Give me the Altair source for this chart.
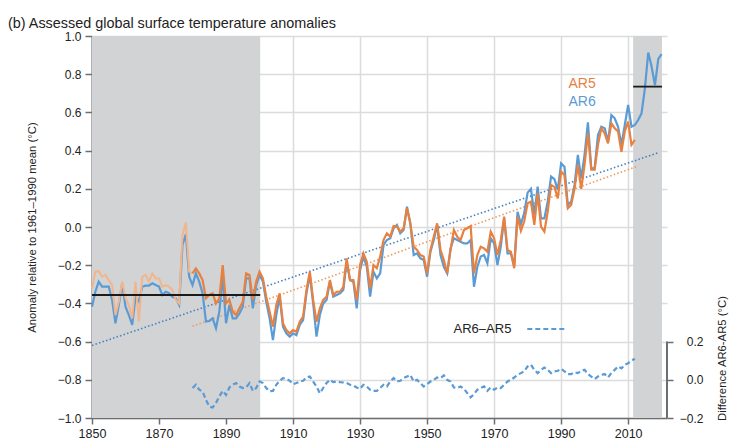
import altair as alt
import pandas as pd

# ---------------- data ----------------
years_ar6 = list(range(1850, 2021))
ar6 = [
    -0.417, -0.339, -0.286, -0.312, -0.312, -0.312, -0.382, -0.504, -0.408, -0.295,
    -0.417, -0.461, -0.513, -0.365, -0.390, -0.312, -0.307, -0.307, -0.295, -0.304,
    -0.312, -0.356, -0.339, -0.347, -0.365, -0.373, -0.408, -0.094, -0.038, -0.260,
    -0.304, -0.243, -0.286, -0.347, -0.495, -0.492, -0.478, -0.530, -0.443, -0.260,
    -0.504, -0.408, -0.478, -0.478, -0.452, -0.417, -0.269, -0.269, -0.426, -0.304,
    -0.251, -0.286, -0.391, -0.478, -0.592, -0.461, -0.365, -0.522, -0.557, -0.574,
    -0.557, -0.566, -0.513, -0.487, -0.347, -0.251, -0.400, -0.574, -0.461, -0.400,
    -0.382, -0.286, -0.365, -0.356, -0.347, -0.330, -0.182, -0.278, -0.286, -0.426,
    -0.225, -0.155, -0.208, -0.365, -0.234, -0.269, -0.243, -0.094, -0.068, -0.059,
    -0.007, 0.011, -0.033, -0.016, 0.106, 0.019, -0.147, -0.138, -0.164, -0.173,
    -0.260, -0.129, -0.068, 0.011, -0.147, -0.208, -0.243, -0.112, -0.059, -0.068,
    -0.077, -0.086, -0.086, -0.068, -0.313, -0.208, -0.155, -0.147, -0.190, -0.059,
    -0.086, -0.199, -0.103, 0.045, -0.138, -0.138, -0.204, 0.080, 0.015, 0.074,
    0.180, 0.200, 0.063, 0.211, 0.045, 0.045, 0.133, 0.264, 0.250, 0.194,
    0.333, 0.316, 0.115, 0.133, 0.220, 0.377, 0.255, 0.377, 0.548, 0.307,
    0.307, 0.482, 0.525, 0.517, 0.447, 0.586, 0.569, 0.525, 0.430, 0.534,
    0.639, 0.525, 0.534, 0.560, 0.595, 0.726, 0.913, 0.840, 0.743, 0.880,
    0.905,
]

years_ar5 = list(range(1850, 2013))
ar5 = [
    -0.321, -0.234, -0.230, -0.260, -0.251, -0.278, -0.304, -0.461, -0.391, -0.286,
    -0.373, -0.408, -0.478, -0.286, -0.495, -0.260, -0.251, -0.286, -0.243, -0.269,
    -0.269, -0.312, -0.304, -0.312, -0.330, -0.382, -0.400, -0.042, 0.024, -0.234,
    -0.243, -0.217, -0.243, -0.278, -0.373, -0.356, -0.347, -0.400, -0.373, -0.199,
    -0.400, -0.382, -0.443, -0.461, -0.426, -0.391, -0.243, -0.251, -0.382, -0.286,
    -0.234, -0.269, -0.365, -0.443, -0.522, -0.408, -0.347, -0.504, -0.540, -0.557,
    -0.540, -0.548, -0.496, -0.469, -0.330, -0.234, -0.382, -0.496, -0.426, -0.382,
    -0.365, -0.278, -0.356, -0.339, -0.339, -0.313, -0.164, -0.278, -0.278, -0.382,
    -0.199, -0.138, -0.182, -0.321, -0.199, -0.216, -0.155, -0.068, -0.033, -0.051,
    0.005, 0.002, -0.024, -0.007, 0.098, 0.019, -0.103, -0.120, -0.147, -0.155,
    -0.243, -0.120, -0.051, 0.019, -0.120, -0.173, -0.243, -0.120, -0.016, -0.051,
    -0.068, -0.016, -0.007, 0.005, -0.243, -0.147, -0.103, -0.112, -0.129, -0.024,
    -0.059, -0.147, -0.068, 0.054, -0.120, -0.129, -0.216, 0.054, -0.020, 0.030,
    0.124, 0.133, 0.011, 0.176, 0.002, -0.024, 0.080, 0.220, 0.210, 0.150,
    0.290, 0.272, 0.098, 0.115, 0.200, 0.325, 0.200, 0.325, 0.490, 0.300,
    0.300, 0.430, 0.517, 0.490, 0.438, 0.543, 0.517, 0.500, 0.394, 0.500,
    0.552, 0.430, 0.456,
]

years_diff = list(range(1880, 2013))
diff = [
    -0.043, -0.026, -0.052, -0.061, -0.105, -0.140, -0.145, -0.122, -0.087, -0.058,
    -0.079, -0.040, -0.026, -0.017, -0.035, -0.043, -0.040, -0.017, -0.058, -0.043,
    -0.009, -0.017, -0.043, -0.060, -0.058, -0.026, -0.005, 0.009, 0.005, -0.005,
    -0.023, -0.017, -0.009, -0.005, 0.012, 0.017, -0.009, -0.035, -0.070, -0.043,
    -0.017, 0.000, -0.012, -0.009, -0.012, -0.014, -0.017, -0.026, -0.030, -0.040,
    -0.047, -0.026, -0.035, -0.052, -0.058, -0.058, -0.043, -0.026, -0.035, -0.009,
    0.009, -0.009, -0.005, 0.009, 0.017, 0.026, -0.009, 0.000, -0.017, -0.035,
    -0.023, -0.009, 0.000, 0.012, 0.009, 0.023, 0.000, -0.009, -0.040, -0.043,
    -0.035, -0.047, -0.070, -0.092, -0.075, -0.052, -0.043, -0.035, -0.058, -0.040,
    -0.052, -0.040, -0.043, -0.026, -0.009, 0.000, 0.012, 0.026, 0.035, 0.044,
    0.070, 0.079, 0.052, 0.035, 0.052, 0.064, 0.052, 0.035, 0.044, 0.047,
    0.058, 0.044, 0.030, 0.030, 0.040, 0.035, 0.047, 0.052, 0.030, 0.017,
    0.004, 0.017, 0.026, 0.030, 0.013, 0.035, 0.052, 0.070, 0.060, 0.079,
    0.087, 0.100, 0.110,
]

trend_ar6_years = [1850, 2019]
trend_ar6 = [-0.62, 0.389]
trend_ar5_years = [1880, 2013]
trend_ar5 = [-0.52, 0.32]

period_start = [1850, 2011.5]
period_end = [1900.2, 2020.1]
period_mean = [-0.356, 0.735]

# ---------------- styling ----------------
FONT = "Liberation Sans"
BLUE = "#5b9bd5"
ORANGE = "#e8813f"
PALE_ORANGE = "#f2b58c"
GREY_BAND = "#d1d3d4"
AXIS_GREY = "#6d6e71"
TEXT = "#222222"
W, H = 575, 382

xs = alt.Scale(domain=[1850, 2021.6], nice=False, zero=False)
ys = alt.Scale(domain=[-1.0, 1.0], nice=False, zero=False)

x_axis = alt.Axis(
    values=list(range(1850, 2011, 20)), format="d", title=None,
    grid=True, gridColor="#dcdcdc", gridWidth=1.5,
    domain=True, domainColor=AXIS_GREY, domainWidth=1.5,
    ticks=True, tickColor=AXIS_GREY, tickSize=6, tickWidth=1.5,
    labelFont=FONT, labelFontSize=12.5, labelColor=TEXT, labelPadding=3,
    labelFlush=False, labelOverlap=False,
)
y_axis = alt.Axis(
    values=[round(-1.0 + 0.2 * i, 1) for i in range(11)], format=".1f",
    title="Anomaly relative to 1961–1990 mean (°C)",
    titleFont=FONT, titleFontSize=11.3, titleFontWeight="normal", titleColor=TEXT,
    titleAngle=270, titleX=-57, titleY=H / 2, titleAlign="center", titleBaseline="alphabetic",
    grid=True, gridColor="#dcdcdc", gridWidth=1.5,
    domain=True, domainColor=AXIS_GREY, domainWidth=2,
    ticks=True, tickColor=AXIS_GREY, tickSize=7, tickWidth=1.5,
    labelFont=FONT, labelFontSize=12, labelColor=TEXT, labelPadding=4,
    labelFlush=False, labelOverlap=False,
)

def X(field):
    return alt.X(field, type="quantitative", scale=xs, axis=x_axis)

def Y(field):
    return alt.Y(field, type="quantitative", scale=ys, axis=y_axis)

df_ar6 = pd.DataFrame({"year": years_ar6, "value": ar6})
df_ar5 = pd.DataFrame({"year": years_ar5, "value": ar5})
df_ar5_early = df_ar5[df_ar5["year"] <= 1880]
df_ar5_late = df_ar5[df_ar5["year"] >= 1880]
df_diff = pd.DataFrame({"year": years_diff, "diff": diff})
df_t6 = pd.DataFrame({"year": trend_ar6_years, "value": trend_ar6})
df_t5 = pd.DataFrame({"year": trend_ar5_years, "value": trend_ar5})
df_per = pd.DataFrame({"year": period_start, "year2": period_end, "value": period_mean})

bands = alt.Chart(df_per).mark_rect(color=GREY_BAND).encode(
    x=X("year"), x2="year2",
    y=alt.Y(datum=1.0, type="quantitative", scale=ys, axis=y_axis),
    y2=alt.Y2(datum=-1.0),
)
trend6 = alt.Chart(df_t6).mark_line(color="#4a7fc0", strokeWidth=1.6, strokeDash=[1.5, 2.2]).encode(
    x=X("year"), y=Y("value"))
trend5 = alt.Chart(df_t5).mark_line(color="#ee9a60", strokeWidth=1.6, strokeDash=[1.5, 2.2]).encode(
    x=X("year"), y=Y("value"))
line6 = alt.Chart(df_ar6).mark_line(color=BLUE, strokeWidth=2.2).encode(x=X("year"), y=Y("value"))
line5a = alt.Chart(df_ar5_early).mark_line(color=PALE_ORANGE, strokeWidth=2).encode(x=X("year"), y=Y("value"))
line5b = alt.Chart(df_ar5_late).mark_line(color=ORANGE, strokeWidth=2.2).encode(x=X("year"), y=Y("value"))
means = alt.Chart(df_per).mark_rule(color="#1a1a1a", strokeWidth=1.8).encode(
    x=X("year"), x2="year2", y=Y("value"))

lab5 = alt.Chart(pd.DataFrame({"year": [1992.2], "value": [0.749], "t": ["AR5"]})).mark_text(
    align="left", baseline="middle", font=FONT, fontSize=14, color=ORANGE
).encode(x=X("year"), y=Y("value"), text="t:N")
lab6 = alt.Chart(pd.DataFrame({"year": [1992.2], "value": [0.654], "t": ["AR6"]})).mark_text(
    align="left", baseline="middle", font=FONT, fontSize=14, color=BLUE
).encode(x=X("year"), y=Y("value"), text="t:N")
labd = alt.Chart(pd.DataFrame({"year": [1957.9], "value": [-0.534], "t": ["AR6–AR5"]})).mark_text(
    align="left", baseline="middle", font=FONT, fontSize=13, color=TEXT
).encode(x=X("year"), y=Y("value"), text="t:N")
keyd = alt.Chart(pd.DataFrame({"year": [1979.9], "year2": [1991.8], "value": [-0.534]})).mark_rule(
    color=BLUE, strokeWidth=2.2, strokeDash=[5, 3]
).encode(x=X("year"), x2="year2", y=Y("value"))

main = alt.layer(bands, trend6, trend5, line6, line5a, line5b, means, lab5, lab6, labd, keyd)

ys2 = alt.Scale(domain=[-0.2, 1.8], nice=False, zero=False)
r_axis = alt.Axis(
    orient="right", values=[-0.2, 0.0, 0.2], format=".1f",
    title="Difference AR6-AR5 (°C)",
    titleFont=FONT, titleFontSize=11.3, titleFontWeight="normal", titleColor=TEXT,
    titleAngle=270, titleX=58, titleY=322, titleAlign="center", titleBaseline="alphabetic",
    grid=False, domain=False,
    ticks=True, tickColor=AXIS_GREY, tickSize=6, tickWidth=1.5,
    labelFont=FONT, labelFontSize=12, labelColor=TEXT, labelAlign="right", labelPadding=30,
    labelFlush=False, labelOverlap=False,
)
diff_line = alt.Chart(df_diff).mark_line(color=BLUE, strokeWidth=2.2, strokeDash=[5, 3]).encode(
    x=X("year"), y=alt.Y("diff:Q", scale=ys2, axis=r_axis))
spine = alt.Chart(pd.DataFrame({"a": [0]})).mark_rule(color=AXIS_GREY, strokeWidth=2).encode(
    x=alt.value(W),
    y=alt.Y(datum=-0.2, type="quantitative", scale=ys2, axis=r_axis),
    y2=alt.Y2(datum=0.2),
)
right = alt.layer(diff_line, spine)

chart = alt.layer(main, right).resolve_scale(y="independent").properties(
    width=W, height=H,
    title=alt.Title(
        "(b) Assessed global surface temperature anomalies",
        anchor="start", frame="group", dx=-84, dy=16, offset=4,
        font=FONT, fontSize=14.4, fontWeight="normal", color=TEXT, baseline="alphabetic",
    ),
    autosize=alt.AutoSizeParams(type="none"),
    padding={"left": 84, "top": 28, "right": 65, "bottom": 24},
).configure_view(strokeWidth=0)

chart.save("out.html", embed_options={"renderer": "svg", "actions": False})
